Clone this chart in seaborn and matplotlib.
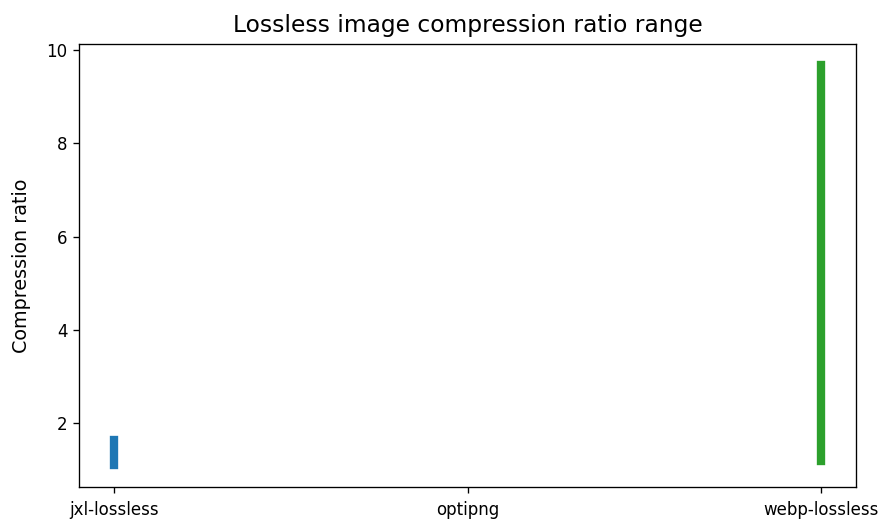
import matplotlib
matplotlib.use("Agg")
import matplotlib.pyplot as plt
import pandas as pd
import seaborn as sns

# Compression ratio range (min / max) per lossless codec
codecs = ["jxl-lossless", "optipng", "webp-lossless"]
ratio_min = [1.10, 1.05, 1.19]
ratio_max = [1.64, 1.05, 9.69]

df = pd.DataFrame({
    "codec": codecs + codecs,
    "ratio": ratio_min + ratio_max,
})

fig, ax = plt.subplots(figsize=(890 / 120, 522 / 120), dpi=120)
fig.subplots_adjust(left=0.0888, right=0.9618, top=0.9148, bottom=0.0665)

sns.lineplot(
    data=df, x="codec", y="ratio", hue="codec",
    palette=["#1f77b4", "#ff7f0e", "#2ca02c"],
    estimator=None, linewidth=5, solid_capstyle="projecting",
    legend=False, ax=ax,
)

ax.set_title("Lossless image compression ratio range", fontsize=14, pad=7.5)
ax.set_xlabel("")
ax.set_ylabel("Compression ratio", fontsize=11.5, labelpad=9)
ax.tick_params(axis="x", pad=5)

fig.savefig("out.png", dpi=120)
